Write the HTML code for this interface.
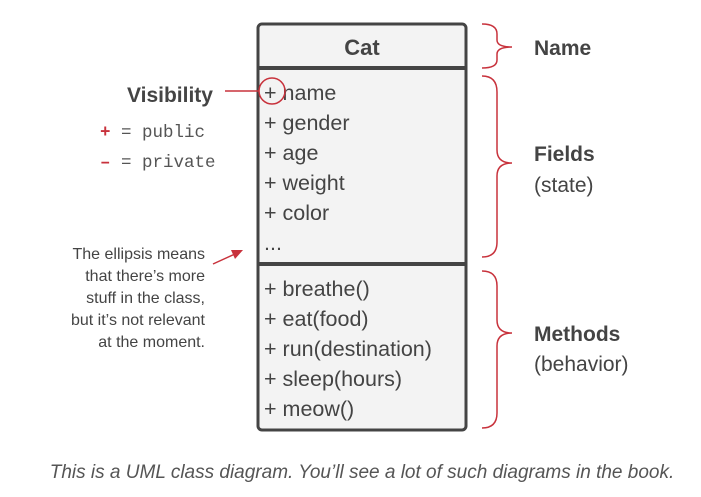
<!DOCTYPE html>
<html><head><meta charset="utf-8"><style>
html,body{margin:0;padding:0;background:#fff;}
svg{display:block;}
</style></head><body>
<svg width="701" height="497" viewBox="0 0 701 497" xmlns="http://www.w3.org/2000/svg" font-family="Liberation Sans, sans-serif">
<rect x="258" y="24" width="208" height="406" rx="4" fill="#f3f3f3" stroke="#444" stroke-width="3"/>
<line x1="258" y1="68" x2="466" y2="68" stroke="#444" stroke-width="4"/>
<line x1="258" y1="264" x2="466" y2="264" stroke="#444" stroke-width="4"/>
<text x="362" y="55" text-anchor="middle" font-size="22" font-weight="bold" fill="#444">Cat</text>
<g font-size="21.5" fill="#444">
<text x="264" y="100">+ name</text>
<text x="264" y="130">+ gender</text>
<text x="264" y="160">+ age</text>
<text x="264" y="190">+ weight</text>
<text x="264" y="220">+ color</text>
<text x="264" y="250">...</text>
<text x="264" y="296">+ breathe()</text>
<text x="264" y="326">+ eat(food)</text>
<text x="264" y="356">+ run(destination)</text>
<text x="264" y="386">+ sleep(hours)</text>
<text x="264" y="416">+ meow()</text>
</g>
<circle cx="272" cy="91" r="13" fill="none" stroke="#c8323c" stroke-width="1.5"/>
<line x1="225" y1="91" x2="259" y2="91" stroke="#c8323c" stroke-width="1.5"/>
<text x="170" y="102" text-anchor="middle" font-size="21" font-weight="bold" fill="#444">Visibility</text>
<g font-family="Liberation Mono, monospace" font-size="17.5" fill="#555">
<text x="100" y="137"><tspan fill="#c8323c" font-weight="bold">+</tspan> = public</text>
<text x="100" y="167"><tspan fill="#c8323c" font-weight="bold">–</tspan> = private</text>
</g>
<g font-size="16" fill="#444" text-anchor="end">
<text x="205" y="259">The ellipsis means</text>
<text x="205" y="281">that there’s more</text>
<text x="205" y="303">stuff in the class,</text>
<text x="205" y="325">but it’s not relevant</text>
<text x="205" y="347">at the moment.</text>
</g>
<line x1="213" y1="264" x2="235" y2="254" stroke="#c8323c" stroke-width="1.5"/>
<polygon points="243,250 231,250 235,259" fill="#c8323c"/>
<g fill="none" stroke="#c8323c" stroke-width="1.5">
<path d="M482,24 Q497,24 497,34 L497,40 Q497,47 512,47 Q497,47 497,54 L497,60 Q497,68 482,68"/>
<path d="M482,76 Q497,76 497,92 L497,150 Q497,163 512,163 Q497,163 497,176 L497,242 Q497,257 482,257"/>
<path d="M482,271 Q497,271 497,286 L497,320 Q497,333 512,333 Q497,333 497,346 L497,413 Q497,428 482,428"/>
</g>
<text x="534" y="55" font-size="21" font-weight="bold" fill="#444">Name</text>
<text x="534" y="161" font-size="21" font-weight="bold" fill="#444">Fields</text>
<text x="534" y="192" font-size="21" fill="#444">(state)</text>
<text x="534" y="341" font-size="21" font-weight="bold" fill="#444">Methods</text>
<text x="534" y="371" font-size="21" fill="#444">(behavior)</text>
<text x="362" y="478" text-anchor="middle" font-size="19" font-style="italic" fill="#555">This is a UML class diagram. You’ll see a lot of such diagrams in the book.</text>
</svg>
</body></html>
